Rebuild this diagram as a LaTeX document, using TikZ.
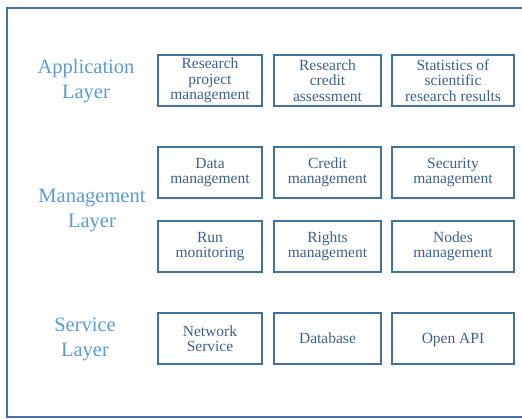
\documentclass[tikz,border=0pt]{standalone}
\usepackage{fontspec}
\setmainfont{Liberation Serif}
\definecolor{framecol}{RGB}{68,114,168}
\definecolor{boxcol}{RGB}{65,113,156}
\definecolor{boxtext}{RGB}{62,96,138}
\definecolor{layercol}{RGB}{91,155,213}
\begin{document}
\begin{tikzpicture}[x=1pt,y=-1pt,
  box/.style={draw=boxcol, line width=1.8pt, align=center, inner sep=0pt,
    minimum height=51pt, text=boxtext,
    font=\fontsize{15.5}{15.5}\selectfont},
  colA/.style={box, minimum width=104pt},
  colB/.style={box, minimum width=107pt},
  colC/.style={box, minimum width=122pt},
  oneline/.style={text height=11pt, text depth=1.5pt},
  layer/.style={align=center, text=layercol, inner sep=0pt,
    font=\fontsize{20.5}{25}\selectfont}]
  \useasboundingbox (0,0) rectangle (522,419);
  % outer frame (right side runs off the page)
  \draw[framecol, line width=2pt] (7,8) rectangle (530,417);

  % layer titles
  \node[layer] (app)  at (86,81.5)  {Application\\Layer};
  \node[layer] (mgmt) at (92,210.5) {Management\\Layer};
  \node[layer] (serv) at (85,339)   {Service\\Layer};

  % application layer
  \node[colA] (rpm) at (210,80.5)   {Research\\project\\management};
  \node[colB] (rca) at (327.5,80.5) {Research\\credit\\assessment};
  \node[colC] (ssr) at (453,80.5)   {Statistics of\\scientific\\research results};

  % management layer
  \node[colA] (dm)  at (210,172.5)   {Data\\management};
  \node[colB] (cm)  at (327.5,172.5) {Credit\\management};
  \node[colC] (sm)  at (453,172.5)   {Security\\management};
  \node[colA] (rm)  at (210,246.5)   {Run\\monitoring};
  \node[colB] (rgm) at (327.5,246.5) {Rights\\management};
  \node[colC] (nm)  at (453,246.5)   {Nodes\\management};

  % service layer
  \node[colA] (ns)  at (210,338.5)   {Network\\Service};
  \node[colB, oneline] (db)  at (327.5,338.5) {Database};
  \node[colC, oneline] (api) at (453,338.5)   {Open API};
\end{tikzpicture}
\end{document}
